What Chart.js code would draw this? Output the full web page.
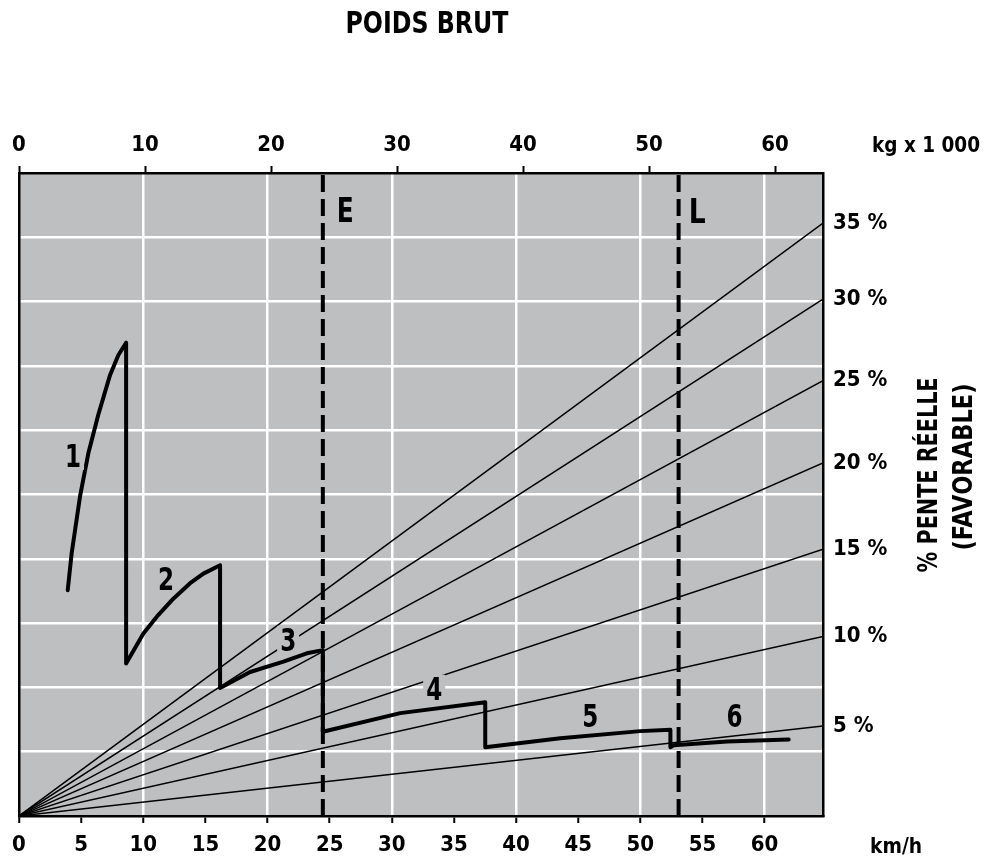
<!DOCTYPE html>
<html>
<head>
<meta charset="utf-8">
<title>Poids brut</title>
<script src="https://cdn.jsdelivr.net/npm/chart.js@4.4.1/dist/chart.umd.min.js"></script>
<style>
  html, body { margin: 0; padding: 0; background: #fff; }
  canvas { display: block; }
</style>
</head>
<body>
<canvas id="chart" width="985" height="859"></canvas>
<script>
// axis ranges and ticks
const KMH_MAX = 64.7;
const KG_MAX = 63.8;
const KMH_TICKS = [0, 5, 10, 15, 20, 25, 30, 35, 40, 45, 50, 55, 60];
const KG_TICKS = [0, 10, 20, 30, 40, 50, 60];
const Y_STEPS = [0, 1, 2, 3, 4, 5, 6, 7, 8, 9, 10];

// grade lines: value reached at the right edge of the chart
const GRADE_LABELS = ['5 %', '10 %', '15 %', '20 %', '25 %', '30 %', '35 %'];
const GRADE_END = [1.40, 2.79, 4.15, 5.49, 6.77, 8.04, 9.22];

// gear curves [km/h, value]
const GEAR_1 = [[3.92, 3.51], [4.24, 4.09], [4.91, 4.97], [5.58, 5.64], [6.38, 6.24], [7.33, 6.86], [8.00, 7.17], [8.62, 7.36]];
const GEAR_2 = [[8.62, 2.37], [10.01, 2.84], [11.09, 3.10], [12.42, 3.38], [13.77, 3.62], [14.84, 3.77], [16.18, 3.90]];
const GEAR_3 = [[16.18, 1.99], [18.60, 2.24], [21.28, 2.40], [23.16, 2.53], [24.45, 2.58]];
const GEAR_4 = [[24.45, 1.31], [30.68, 1.60], [37.52, 1.77]];
const GEAR_5 = [[37.52, 1.07], [43.56, 1.21], [50.00, 1.32], [52.42, 1.34]];
const GEAR_6 = [[52.42, 1.07], [52.68, 1.10], [56.98, 1.16], [61.94, 1.19]];
const GEAR_NAMES = ['1', '2', '3', '4', '5', '6'];

// limit lines
const LIMIT_NAMES = ['E', 'L'];
const LIMIT_KMH = [24.45, 53.08];

const FONT = '"Liberation Sans Narrow", "DejaVu Sans Condensed", "Roboto", sans-serif';
const GREY = '#bebfc1';

// where the labels sit, in chart units
const GEAR_LABEL_AT = [[4.35, 5.60], [11.84, 3.70], [21.66, 2.74], [33.41, 1.98], [45.97, 1.57], [57.57, 1.57]];
const LIMIT_LABEL_AT = [[26.25, 9.44], [54.59, 9.41]];

const toPts = arr => arr.map(p => ({x: p[0], y: p[1]}));
const gearPath = [].concat(GEAR_1, GEAR_2, GEAR_3, GEAR_4, GEAR_5, GEAR_6);

const datasets = [];
datasets.push({
    label: 'rapports',
    data: toPts(gearPath),
    borderColor: '#000',
    borderWidth: 4,
    borderJoinStyle: 'round',
    borderCapStyle: 'round'
});
LIMIT_KMH.forEach((v, i) => {
    datasets.push({
        label: LIMIT_NAMES[i],
        data: [{x: v, y: 0}, {x: v, y: 10}],
        borderColor: '#000',
        borderWidth: 4,
        borderDash: [17, 7]
    });
});
GRADE_END.forEach((v, i) => {
    datasets.push({
        label: GRADE_LABELS[i],
        data: [{x: 0, y: 0}, {x: KMH_MAX, y: v}],
        borderColor: '#000',
        borderWidth: 1.5
    });
});

// squeeze text horizontally so it keeps the narrow look of the original
function narrowText(ctx, text, x, y, width) {
    const w = ctx.measureText(text).width;
    const k = Math.min(1, width / w);
    ctx.save();
    ctx.translate(x, y);
    ctx.scale(k, 1);
    ctx.fillText(text, 0, 0);
    ctx.restore();
}

const decor = {
    id: 'decor',
    beforeDraw(chart) {
        const {ctx, chartArea: a} = chart;
        ctx.save();
        ctx.fillStyle = GREY;
        ctx.fillRect(a.left, a.top, a.right - a.left, a.bottom - a.top);
        ctx.restore();
    },
    afterDatasetsDraw(chart) {
        const {ctx} = chart;
        const x = chart.scales.x, y = chart.scales.y;
        ctx.save();
        ctx.textAlign = 'center';
        ctx.textBaseline = 'alphabetic';
        ctx.font = 'bold 32px ' + FONT;
        GEAR_NAMES.forEach((name, i) => {
            const px = x.getPixelForValue(GEAR_LABEL_AT[i][0]);
            const py = y.getPixelForValue(GEAR_LABEL_AT[i][1]);
            const w = ctx.measureText(name).width * 0.8;
            ctx.fillStyle = GREY;
            ctx.fillRect(px - w / 2 - 3, py - 14, w + 6, 28);
            ctx.fillStyle = '#000';
            narrowText(ctx, name, px, py + 11.5, w);
        });
        ctx.font = 'bold 34px ' + FONT;
        LIMIT_NAMES.forEach((name, i) => {
            const px = x.getPixelForValue(LIMIT_LABEL_AT[i][0]);
            const py = y.getPixelForValue(LIMIT_LABEL_AT[i][1]);
            ctx.fillStyle = '#000';
            narrowText(ctx, name, px, py + 12.5, 17);
        });
        ctx.restore();
    },
    afterDraw(chart) {
        const {ctx} = chart;
        ctx.save();
        ctx.fillStyle = '#000';
        ctx.textBaseline = 'alphabetic';
        ctx.textAlign = 'center';
        ctx.font = 'bold 31px ' + FONT;
        narrowText(ctx, 'POIDS BRUT', 427, 33, 163);

        ctx.textAlign = 'left';
        ctx.font = 'bold 22px ' + FONT;
        narrowText(ctx, 'kg x 1 000', 872, 152, 108);
        narrowText(ctx, 'km/h', 870, 853, 52);

        ctx.textAlign = 'center';
        ctx.font = 'bold 26px ' + FONT;
        ctx.save();
        ctx.translate(937, 475);
        ctx.rotate(-Math.PI / 2);
        narrowText(ctx, '% PENTE RÉELLE', 0, 0, 195);
        ctx.restore();
        ctx.save();
        ctx.translate(972, 467);
        ctx.rotate(-Math.PI / 2);
        narrowText(ctx, '(FAVORABLE)', 0, 0, 167);
        ctx.restore();
        ctx.restore();
    }
};

const tickFont = {family: FONT, size: 22, weight: 'bold'};

new Chart(document.getElementById('chart').getContext('2d'), {
    type: 'scatter',
    data: {datasets: datasets},
    options: {
        responsive: false,
        animation: false,
        layout: {padding: 0},
        elements: {
            point: {radius: 0, hoverRadius: 0},
            line: {tension: 0, fill: false}
        },
        datasets: {scatter: {showLine: true}},
        plugins: {
            legend: {display: false},
            tooltip: {enabled: false},
            title: {display: false}
        },
        scales: {
            x: {
                type: 'linear',
                position: 'bottom',
                min: 0,
                max: KMH_MAX,
                afterBuildTicks: s => { s.ticks = KMH_TICKS.map(v => ({value: v})); },
                afterFit: s => { s.height = 43; },
                ticks: {font: tickFont, color: '#000', padding: 9, maxRotation: 0, autoSkip: false},
                grid: {
                    color: c => (c.tick && c.tick.value > 0 && c.tick.value % 10 === 0) ? '#fff' : 'rgba(0,0,0,0)',
                    lineWidth: 2.5,
                    drawTicks: true,
                    tickLength: 7,
                    tickColor: '#000',
                    tickWidth: 2
                },
                border: {display: true, color: '#000', width: 2.5}
            },
            x2: {
                type: 'linear',
                position: 'top',
                min: 0,
                max: KG_MAX,
                afterBuildTicks: s => { s.ticks = KG_TICKS.map(v => ({value: v})); },
                afterFit: s => { s.height = 173; },
                ticks: {font: tickFont, color: '#000', padding: 8, maxRotation: 0, autoSkip: false},
                grid: {drawOnChartArea: false, drawTicks: true, tickLength: 7, tickColor: '#000', tickWidth: 2},
                border: {display: true, color: '#000', width: 2.5}
            },
            y: {
                type: 'linear',
                position: 'left',
                min: 0,
                max: 10,
                afterBuildTicks: s => { s.ticks = Y_STEPS.map(v => ({value: v})); },
                afterFit: s => { s.width = 19; },
                ticks: {display: false},
                grid: {
                    color: c => (c.tick && c.tick.value > 0 && c.tick.value < 10) ? '#fff' : 'rgba(0,0,0,0)',
                    lineWidth: 2.5,
                    drawTicks: false
                },
                border: {display: true, color: '#000', width: 2.5}
            },
            y2: {
                type: 'linear',
                position: 'right',
                min: 0,
                max: 10,
                afterBuildTicks: s => { s.ticks = GRADE_END.map(v => ({value: v})); },
                afterFit: s => { s.width = 162; },
                ticks: {
                    font: tickFont,
                    color: '#000',
                    padding: 10,
                    autoSkip: false,
                    callback: (v, i) => GRADE_LABELS[i]
                },
                grid: {drawOnChartArea: false, drawTicks: false},
                border: {display: true, color: '#000', width: 2.5}
            }
        }
    },
    plugins: [decor]
});
</script>
</body>
</html>
